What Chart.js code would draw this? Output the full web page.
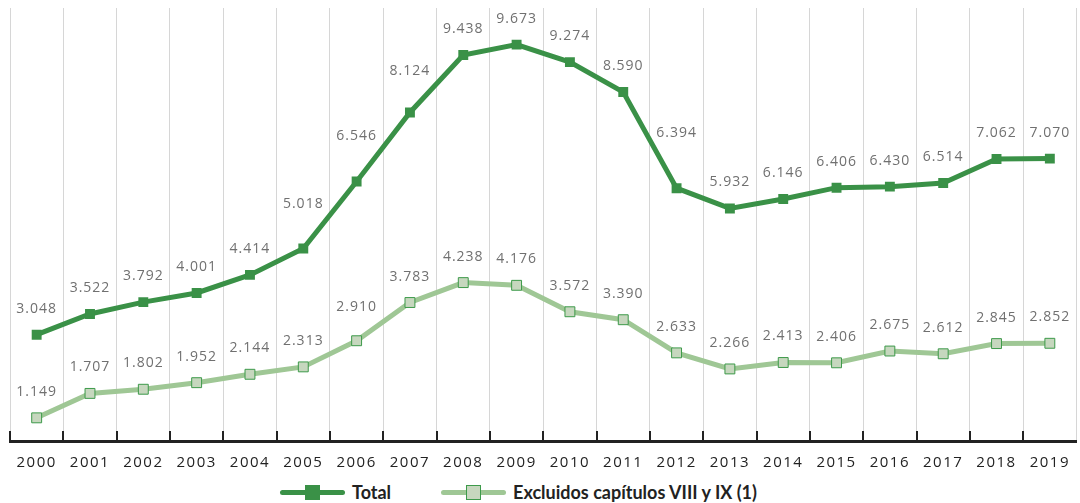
<!doctype html>
<html lang="es">
  <head>
    <meta charset="utf-8">
    <title>Total y excluidos capítulos VIII y IX</title>
    <style>
      * { margin: 0; padding: 0; }
      body { width: 1080px; height: 503px; overflow: hidden; background: #fff; font-family: "Open Sans", sans-serif; }
      .chartBox { position: absolute; left: 0; top: 0; width: 1080px; height: 480px; }
      .legend { position: absolute; left: 280px; top: 480px; height: 24px; display: flex; align-items: center; }
      .item { display: flex; align-items: center; margin-right: 50px; }
      .swatch { position: relative; width: 65px; height: 5px; border-radius: 3px; }
      .swatch span { position: absolute; left: 25px; top: -5px; width: 15px; height: 15px; box-sizing: border-box; }
      .item p { margin-left: 7px; font-family: Lato, sans-serif; font-weight: bold; font-size: 18px; color: #222; }
    </style>
  </head>
  <body>
    <div class="chartBox"><canvas id="myChart"></canvas></div>
    <div class="legend">
      <div class="item">
        <div class="swatch" style="background:#3a9147"><span style="background:#3a9147"></span></div>
        <p>Total</p>
      </div>
      <div class="item">
        <div class="swatch" style="background:#9fc795"><span style="background:#c6d7be;border:1px solid #3d9a4a"></span></div>
        <p>Excluidos capítulos VIII y IX (1)</p>
      </div>
    </div>

    <script src="https://cdn.jsdelivr.net/npm/chart.js"></script>
    <script>
    const years = ['2000','2001','2002','2003','2004','2005','2006','2007','2008','2009',
                   '2010','2011','2012','2013','2014','2015','2016','2017','2018','2019'];
    const total = [3.048, 3.522, 3.792, 4.001, 4.414, 5.018, 6.546, 8.124, 9.438, 9.673,
                   9.274, 8.590, 6.394, 5.932, 6.146, 6.406, 6.430, 6.514, 7.062, 7.070];
    const excluidos = [1.149, 1.707, 1.802, 1.952, 2.144, 2.313, 2.910, 3.783, 4.238, 4.176,
                       3.572, 3.390, 2.633, 2.266, 2.413, 2.406, 2.675, 2.612, 2.845, 2.852];

    // spacing of the letters like the original
    const spacing = {
      id: 'spacing',
      beforeDraw(chart) { chart.ctx.letterSpacing = '1.5px'; }
    };

    // line height at x on the segment a-b (or null if outside)
    function lineY(a, b, x) {
      if (!a || !b) return null;
      const lo = Math.min(a.x, b.x), hi = Math.max(a.x, b.x);
      if (x < lo || x > hi) return null;
      return a.y + (b.y - a.y) * (x - a.x) / (b.x - a.x);
    }

    // value labels above the points, pushed up when the line crosses them
    const valueLabels = {
      id: 'valueLabels',
      afterDatasetsDraw(chart) {
        const ctx = chart.ctx;
        ctx.save();
        ctx.letterSpacing = '1px';
        ctx.font = '14px "Open Sans", sans-serif';
        ctx.fillStyle = '#707070';
        ctx.textAlign = 'center';
        ctx.textBaseline = 'middle';
        chart.data.datasets.forEach((ds, i) => {
          const pts = chart.getDatasetMeta(i).data;
          pts.forEach((pt, j) => {
            const txt = ds.data[j].toFixed(3);
            const w = ctx.measureText(txt).width;
            let y = pt.y - 26;
            const l = lineY(pts[j - 1], pt, pt.x - w / 2);
            const r = lineY(pt, pts[j + 1], pt.x + w / 2);
            [l, r].forEach(ly => {
              if (ly !== null && ly < y + 12) y = Math.min(y, ly - 19);
            });
            ctx.fillText(txt, pt.x, y);
          });
        });
        ctx.restore();
      }
    };

    // dark tick marks pointing up from the axis
    const axisTicks = {
      id: 'axisTicks',
      afterDraw(chart) {
        const x = chart.scales.x, ctx = chart.ctx;
        const half = (x.getPixelForValue(1) - x.getPixelForValue(0)) / 2;
        ctx.save();
        ctx.strokeStyle = '#222';
        ctx.lineWidth = 2;
        for (let i = 0; i < years.length; i++) {
          const px = Math.round(x.getPixelForValue(i) - half);
          ctx.beginPath();
          ctx.moveTo(px, x.top - 10);
          ctx.lineTo(px, x.top);
          ctx.stroke();
        }
        ctx.restore();
      }
    };

    const data = {
      labels: years,
      datasets: [{
        label: 'Total',
        data: total,
        borderColor: '#3a9147',
        backgroundColor: '#3a9147',
        borderWidth: 5,
        pointStyle: 'rect',
        pointRadius: 7,
        pointBorderWidth: 0,
        pointBackgroundColor: '#3a9147'
      }, {
        label: 'Excluidos capítulos VIII y IX (1)',
        data: excluidos,
        borderColor: '#9fc795',
        backgroundColor: '#c6d7be',
        borderWidth: 5,
        pointStyle: 'rect',
        pointRadius: 7,
        pointBorderWidth: 1,
        pointBorderColor: '#3d9a4a',
        pointBackgroundColor: '#c6d7be'
      }]
    };

    const config = {
      type: 'line',
      data,
      options: {
        responsive: true,
        maintainAspectRatio: false,
        animation: false,
        layout: { autoPadding: false, padding: { left: 10, top: 8, right: 0, bottom: 0 } },
        plugins: {
          legend: { display: false },
          tooltip: { enabled: false }
        },
        scales: {
          x: {
            offset: true,
            grid: { offset: true, color: '#d6d6d6', lineWidth: 1, drawTicks: false },
            border: { display: true, color: '#222', width: 3 },
            ticks: {
              padding: 13,
              color: '#222',
              font: { family: '"Open Sans", sans-serif', size: 15 }
            },
            afterFit(scale) { scale.height = 39; }
          },
          y: {
            display: false,
            min: 0.62,
            max: 10.51
          }
        }
      },
      plugins: [spacing, valueLabels, axisTicks]
    };

    const myChart = new Chart(document.getElementById('myChart'), config);
    </script>
  </body>
</html>
